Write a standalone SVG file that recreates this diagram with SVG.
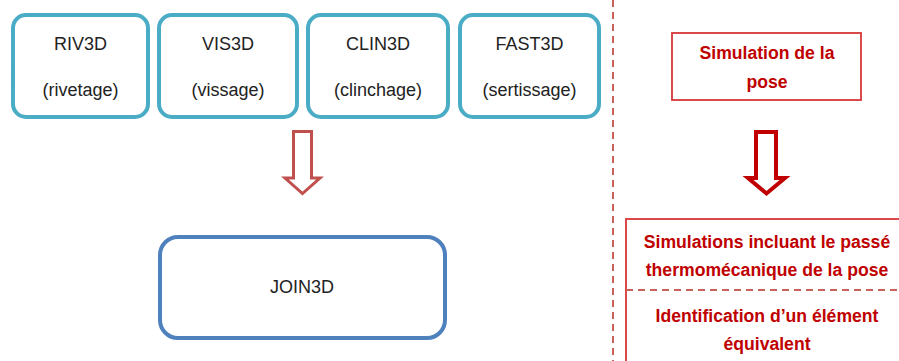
<svg xmlns="http://www.w3.org/2000/svg" width="899" height="361" viewBox="0 0 899 361">
<style>
.top{fill:#fff;stroke:#4BACC6;stroke-width:4}
.join{fill:#fff;stroke:#4F81BD;stroke-width:4}
.t{font-family:"Liberation Sans",Arial,sans-serif;font-size:18px;fill:#222;text-anchor:middle}
.r{font-family:"Liberation Sans",Arial,sans-serif;font-size:17.6px;font-weight:bold;fill:#C00000;text-anchor:middle}
.rbox{fill:#fff;stroke:#D6373A;stroke-width:1.8}
.dash{fill:none;stroke:#C9605C;stroke-width:2;stroke-dasharray:7 5}
</style>
<rect width="899" height="361" fill="#fff"/>
<path class="dash" d="M613 0V361"/>
<g id="riv3d"><rect class="top" x="13" y="15" width="135" height="102" rx="13"/><text class="t" x="80.5" y="50">RIV3D</text><text class="t" x="80.5" y="96">(rivetage)</text></g>
<g id="vis3d"><rect class="top" x="159" y="15" width="138" height="102" rx="13"/><text class="t" x="228" y="50">VIS3D</text><text class="t" x="228" y="96">(vissage)</text></g>
<g id="clin3d"><rect class="top" x="308" y="15" width="140" height="102" rx="13"/><text class="t" x="378" y="50">CLIN3D</text><text class="t" x="378" y="96">(clinchage)</text></g>
<g id="fast3d"><rect class="top" x="460" y="15" width="139" height="102" rx="13"/><text class="t" x="529.5" y="50">FAST3D</text><text class="t" x="529.5" y="96">(sertissage)</text></g>
<g id="join3d"><rect class="join" x="160" y="237" width="285" height="101" rx="18"/><text class="t" x="302" y="293">JOIN3D</text></g>
<g id="simpose"><rect class="rbox" x="672" y="33" width="189" height="67"/><text class="r" x="767" y="59">Simulation de la</text><text class="r" x="767" y="88">pose</text></g>
<g id="simthermo"><rect class="rbox" x="626" y="219" width="290" height="160"/><path class="dash" d="M626 290H899"/>
<text class="r" x="767" y="248">Simulations incluant le passé</text><text class="r" x="767" y="276">thermomécanique de la pose</text>
<text class="r" x="767" y="322">Identification d’un élément</text><text class="r" x="767" y="350">équivalent</text></g>
<g id="connectors">
<path d="M293.5 131.5H311.5V178H320L302.5 193.5L285 178H293.5Z" fill="#fff" stroke="#C0504D" stroke-width="3" stroke-linejoin="miter"/>
<path d="M756 132H776V178H785L766.5 193.5L748 178H756Z" fill="#fff" stroke="#C00000" stroke-width="4" stroke-linejoin="miter"/>
</g>
</svg>
